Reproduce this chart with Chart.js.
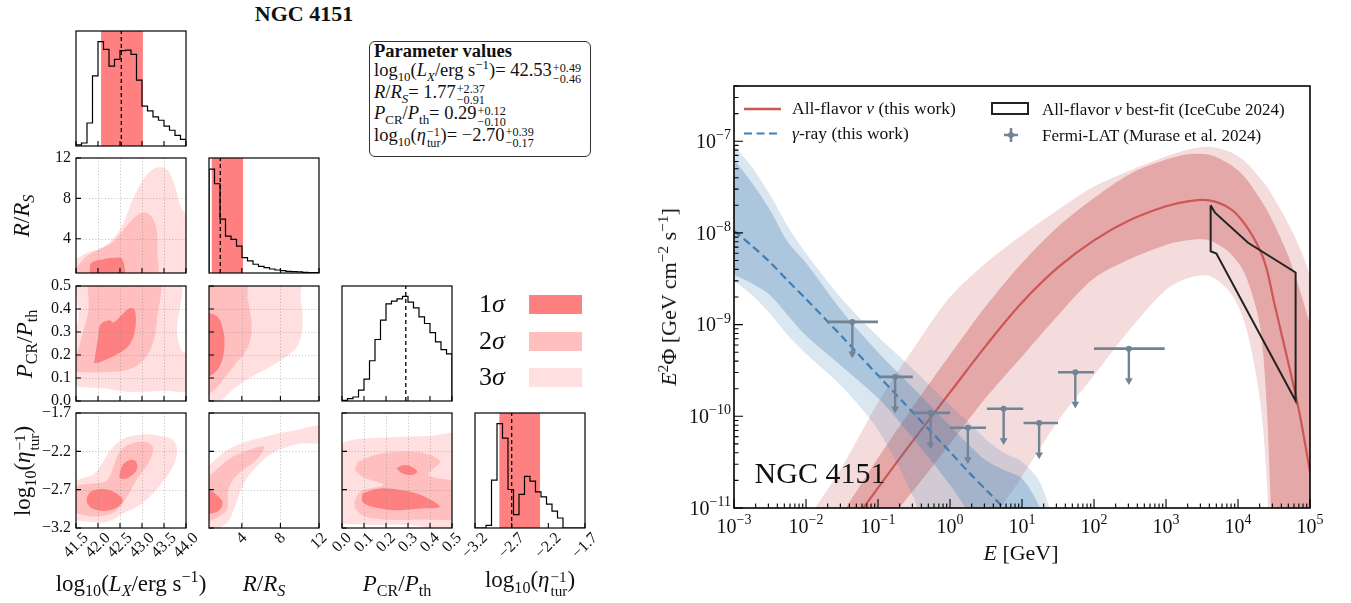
<!DOCTYPE html>
<html>
<head>
<meta charset="utf-8">
<script src="https://cdn.jsdelivr.net/npm/chart.js@4.4.1/dist/chart.umd.min.js"></script>
<style>
body { margin: 0; background: #fff; }
#fig { position: relative; width: 1351px; height: 603px; overflow: hidden; font-family: "Liberation Serif", "DejaVu Serif", serif; color: #111; }
#fig canvas { position: absolute; }
.t { position: absolute; white-space: nowrap; line-height: 1; }
sub, sup { font-size: 0.7em; line-height: 0; }
.ss { display: inline-flex; flex-direction: column; font-size: 0.66em; line-height: 0.92; vertical-align: 0.36em; margin-left: 1px; text-align: left; }
.box { position: absolute; left: 369px; top: 41px; width: 222px; height: 116px; box-sizing: border-box; border: 1.3px solid #333; border-radius: 6px; padding-left: 4px; font-size: 18.5px; }
.pl { height: 21.5px; line-height: 21.5px; white-space: nowrap; }
.pl.first { height: 18px; line-height: 18px; font-size: 18.5px; }
</style>
</head>
<body>
<div id="fig"></div>
<script>
// ---------- corner plot: ranges and ticks ----------
const lxRange = [41.5, 44.0];
const rrRange = [0.6, 12];
const ppRange = [0.0, 0.5];
const etaRange = [-3.2, -1.7];
const lxTicks = [41.5, 42.0, 42.5, 43.0, 43.5, 44.0];
const rrTicks = [4, 8, 12];
const ppTicks = [0.0, 0.1, 0.2, 0.3, 0.4, 0.5];
const etaTicks = [-3.2, -2.7, -2.2, -1.7];

// median and 68% interval of each parameter
const paramMedian = [42.53, 1.77, 0.29, -2.70];
const paramPlus = [0.49, 2.37, 0.12, 0.39];
const paramMinus = [0.46, 0.91, 0.10, 0.17];
const paramBand = [true, true, false, true];

// 1D marginals (20 equal bins over each range, relative height)
const lxHist = [0.01, 0.026, 0.2, 0.61, 0.907, 0.84, 0.695, 0.753, 0.83, 0.834, 0.797, 0.573, 0.346, 0.305, 0.253, 0.224, 0.172, 0.137, 0.093, 0.058];
const rrHist = [0.904, 0.776, 0.469, 0.321, 0.292, 0.233, 0.134, 0.105, 0.076, 0.058, 0.047, 0.035, 0.026, 0.02, 0.015, 0.012, 0.009, 0.006, 0.004, 0.003];
const ppHist = [0.006, 0.02, 0.035, 0.094, 0.19, 0.35, 0.535, 0.703, 0.844, 0.868, 0.888, 0.909, 0.859, 0.809, 0.732, 0.674, 0.594, 0.515, 0.447, 0.409];
const etaHist = [0, 0, 0.023, 0.417, 0.907, 0.781, 0.335, 0.117, 0.292, 0.449, 0.408, 0.315, 0.271, 0.207, 0.146, 0.087, 0, 0, 0, 0];

// 2D credible regions (3 = 3 sigma, 2 = 2 sigma, 1 = 1 sigma), [x, y] in data units
const lxRr3 = [[41.3,0.3],[41.3,1.9],[41.5,2.0],[41.75,2.6],[42.05,3.0],[42.3,3.8],[42.55,5.3],[42.8,8.0],[43.05,10.0],[43.3,11.0],[43.55,10.9],[43.72,9.6],[43.87,7.3],[44.0,6.5],[44.2,6.0],[44.2,0.3],[41.3,0.3]];
const lxRr2 = [[41.3,0.3],[41.3,1.0],[41.5,1.2],[41.75,2.3],[42.05,3.0],[42.35,3.7],[42.6,5.0],[42.85,6.2],[43.05,6.6],[43.22,6.2],[43.33,4.9],[43.35,2.6],[43.3,0.3],[41.3,0.3]];
const lxRr1 = [[41.82,0.3],[41.82,1.4],[41.9,1.75],[42.1,1.95],[42.35,2.1],[42.55,2.0],[42.57,0.3],[41.82,0.3]];

const lxPp3 = [[41.4,0.07],[41.4,0.25],[41.55,0.36],[41.6,0.55],[43.8,0.55],[43.8,0.3],[43.9,0.22],[44.1,0.2],[44.1,0.05],[43.5,0.045],[42.7,0.04],[42.1,0.055],[41.6,0.06],[41.4,0.07]];
const lxPp2 = [[41.4,0.14],[41.5,0.194],[41.66,0.30],[41.78,0.39],[41.87,0.55],[43.34,0.55],[43.34,0.35],[43.21,0.23],[42.99,0.17],[42.65,0.135],[42.13,0.125],[41.7,0.125],[41.4,0.13],[41.4,0.14]];
const lxPp1 = [[41.91,0.165],[42.0,0.275],[42.06,0.334],[42.26,0.351],[42.35,0.341],[42.56,0.378],[42.73,0.404],[42.84,0.396],[42.84,0.304],[42.69,0.238],[42.39,0.199],[42.04,0.169],[41.91,0.165]];

const rrPp3 = [[0.3,0.55],[9.9,0.55],[10.1,0.45],[10.3,0.34],[9.8,0.24],[8.5,0.19],[7.0,0.15],[4.8,0.1],[2.8,0.04],[1.5,-0.01],[0.3,-0.01],[0.3,0.55]];
const rrPp2 = [[0.3,0.55],[4.4,0.55],[4.6,0.45],[5.0,0.35],[4.9,0.27],[4.3,0.21],[3.3,0.16],[2.4,0.11],[1.3,0.055],[0.3,0.03],[0.3,0.55]];
const rrPp1 = [[0.3,0.38],[1.0,0.378],[1.6,0.36],[2.0,0.32],[2.2,0.27],[2.1,0.2],[1.7,0.15],[1.1,0.12],[0.3,0.11],[0.3,0.38]];

const lxEta3 = [[41.3,-2.62],[41.6,-2.56],[41.9,-2.5],[42.1,-2.35],[42.3,-2.17],[42.6,-2.03],[43.0,-1.98],[43.4,-2.0],[43.7,-2.05],[43.8,-2.2],[43.7,-2.4],[43.4,-2.65],[43.0,-2.88],[42.6,-3.0],[42.2,-3.12],[41.8,-3.12],[41.3,-3.05],[41.3,-2.62]];
const lxEta2 = [[41.3,-2.72],[41.6,-2.64],[41.9,-2.62],[42.2,-2.58],[42.35,-2.4],[42.5,-2.2],[42.75,-2.1],[43.1,-2.08],[43.25,-2.15],[43.15,-2.35],[42.9,-2.55],[42.65,-2.8],[42.4,-2.98],[42.0,-3.05],[41.6,-3.02],[41.3,-2.95],[41.3,-2.72]];
const lxEta1a = [[41.74,-2.815],[41.83,-2.728],[42.04,-2.693],[42.3,-2.714],[42.52,-2.793],[42.56,-2.859],[42.39,-2.946],[42.13,-2.977],[41.87,-2.946],[41.76,-2.88],[41.74,-2.815]];
const lxEta1b = [[42.49,-2.509],[42.56,-2.378],[42.73,-2.312],[42.86,-2.334],[42.89,-2.421],[42.78,-2.509],[42.6,-2.561],[42.49,-2.54],[42.49,-2.509]];

const rrEta3 = [[0.3,-2.42],[2.8,-2.16],[6.7,-2.0],[9.9,-1.92],[12.3,-1.87],[12.3,-2.08],[10.0,-2.1],[7.5,-2.2],[5.5,-2.4],[4.2,-2.62],[3.2,-2.95],[2.4,-3.14],[0.3,-3.22],[0.3,-2.42]];
const rrEta2 = [[0.3,-2.55],[1.2,-2.46],[2.8,-2.29],[4.8,-2.18],[6.3,-2.14],[5.6,-2.3],[3.6,-2.5],[2.6,-2.7],[2.5,-2.95],[1.6,-3.05],[0.3,-3.1],[0.3,-2.55]];
const rrEta1 = [[0.3,-2.7],[0.9,-2.72],[1.5,-2.78],[2.0,-2.86],[1.8,-2.95],[1.2,-3.0],[0.3,-3.0],[0.3,-2.7]];

const ppEta3 = [[-0.02,-2.12],[0.05,-2.05],[0.2,-2.02],[0.4,-2.0],[0.55,-2.0],[0.55,-3.17],[0.3,-3.16],[0.05,-3.15],[-0.02,-3.1],[-0.02,-2.12]];
const ppEta2 = [[0.058,-2.443],[0.076,-2.334],[0.187,-2.225],[0.359,-2.216],[0.445,-2.334],[0.393,-2.509],[0.55,-2.64],[0.55,-3.034],[0.359,-3.09],[0.119,-3.064],[0.058,-2.924],[0.084,-2.728],[0.187,-2.64],[0.093,-2.531],[0.058,-2.443]];
const ppEta1a = [[0.247,-2.421],[0.282,-2.378],[0.316,-2.4],[0.342,-2.465],[0.316,-2.509],[0.273,-2.487],[0.247,-2.421]];
const ppEta1b = [[0.093,-2.749],[0.17,-2.684],[0.273,-2.706],[0.359,-2.771],[0.445,-2.924],[0.359,-2.946],[0.239,-2.968],[0.136,-2.924],[0.093,-2.859],[0.093,-2.749]];

// ---------- SED: neutrino model (E in GeV, E^2 Phi in GeV cm^-2 s^-1) ----------
const nuE = [0.01, 0.0316, 0.1, 0.316, 1, 3.16, 10, 31.6, 100, 316, 1000, 2000, 3980, 7940, 12600, 20000, 25100, 31600, 50100, 70800, 100000];
const nuFlux = [1.41e-12, 4.8e-12, 1.66e-11, 5.6e-11, 1.82e-10, 5.9e-10, 1.74e-9, 4.2e-9, 8.3e-9, 1.38e-8, 1.95e-8, 2.21e-8, 2.26e-8, 1.82e-8, 1.23e-8, 6.6e-9, 4.0e-9, 1.78e-9, 3.8e-10, 1.12e-10, 2.5e-11];
const nu1Up = [2.5e-12, 8.7e-12, 3.5e-11, 1.32e-10, 4.7e-10, 1.6e-9, 4.7e-9, 1.17e-8, 2.4e-8, 4.4e-8, 6.3e-8, 7.2e-8, 7.1e-8, 5.5e-8, 4.0e-8, 2.4e-8, 1.78e-8, 1.26e-8, 5.6e-9, 2.5e-9, 1.0e-9];
const nu1Lo = [2.5e-13, 1.0e-12, 5.0e-12, 1.58e-11, 5.0e-11, 1.6e-10, 4.5e-10, 1.26e-9, 3.2e-9, 5.2e-9, 7.4e-9, 8.3e-9, 8.3e-9, 5.9e-9, 3.5e-9, 1.0e-9, 1.26e-10, 2.5e-12, 1e-13, 1e-13, 1e-13];
const nu2Up = [7.1e-12, 2.8e-11, 1.41e-10, 5.6e-10, 2.0e-9, 4.7e-9, 9.5e-9, 1.78e-8, 3.2e-8, 4.8e-8, 6.8e-8, 8.1e-8, 8.7e-8, 7.6e-8, 6.0e-8, 4.0e-8, 3.2e-8, 2.4e-8, 1.26e-8, 7.1e-9, 3.5e-9];
const nu2Lo = [1e-13, 1e-13, 1e-13, 1e-13, 1e-13, 5.0e-12, 2.2e-11, 8.9e-11, 2.8e-10, 8.9e-10, 2.4e-9, 3.2e-9, 3.4e-9, 2.2e-9, 1.0e-9, 1.6e-10, 2.0e-11, 3.2e-13, 1e-13, 1e-13, 1e-13];

// gamma-ray model
const gE = [0.001, 0.00178, 0.00316, 0.00562, 0.01, 0.0316, 0.1, 0.316, 1, 1.78, 3.16, 5.62, 10, 17.8, 31.6];
const gFlux = [1.05e-8, 7.2e-9, 4.8e-9, 3.0e-9, 1.9e-9, 7.4e-10, 2.8e-10, 1.07e-10, 4.1e-11, 2.5e-11, 1.58e-11, 1.0e-11, 6.3e-12, 4.0e-12, 2.5e-12];
const g1Up = [6.3e-8, 3.5e-8, 1.78e-8, 7.9e-9, 4.7e-9, 1.4e-9, 5.0e-10, 2.0e-10, 7.9e-11, 5.0e-11, 3.3e-11, 2.6e-11, 2.1e-11, 1.0e-11, 2.5e-12];
const g1Lo = [3.5e-9, 2.8e-9, 2.1e-9, 1.26e-9, 7.6e-10, 3.5e-10, 1.58e-10, 5.6e-11, 1.78e-11, 8.9e-12, 3.2e-12, 1e-12, 1e-12, 1e-12, 1e-12];
const g2Up = [8.9e-8, 5.2e-8, 2.6e-8, 1.17e-8, 6.0e-9, 1.9e-9, 7.4e-10, 3.2e-10, 1.32e-10, 8.7e-11, 5.6e-11, 4.0e-11, 3.2e-11, 1.9e-11, 5.0e-12];
const g2Lo = [3.0e-9, 2.1e-9, 1.32e-9, 7.6e-10, 4.8e-10, 2.1e-10, 7.1e-11, 1.26e-11, 1e-12, 1e-12, 1e-12, 1e-12, 1e-12, 1e-12, 1e-12];

// IceCube 2024 best-fit bow-tie (outline)
const icE = [4170, 4790, 13800, 63100, 63100, 5010, 4170, 4170];
const icFlux = [2.0e-8, 1.66e-8, 7.8e-9, 3.7e-9, 1.48e-10, 5.96e-9, 6.3e-9, 2.0e-8];

// Fermi-LAT upper limits
const fermiE = [0.044, 0.173, 0.537, 1.77, 5.56, 17.3, 55.0, 305];
const fermiLo = [0.0202, 0.103, 0.309, 1.0, 3.25, 10.5, 31.6, 100];
const fermiHi = [0.1, 0.305, 1.0, 3.16, 10.4, 31.6, 100, 960];
const fermiUL = [1.07e-9, 2.69e-10, 1.09e-10, 7.5e-11, 1.21e-10, 8.45e-11, 3.02e-10, 5.47e-10];

const sedXRange = [1e-3, 1e5];
const sedYRange = [1e-11, 4e-7];
const sedXDecades = [-3, -2, -1, 0, 1, 2, 3, 4, 5];
const sedYDecades = [-11, -10, -9, -8, -7];

// ---------- styling ----------
const SERIF = '"Liberation Serif", "DejaVu Serif", serif';
const sig1 = '#ff8080', sig2 = '#ffbfbf', sig3 = '#ffdfdf';
const nuColor = '#cd5656', gColor = '#3f7fb5', fermiColor = '#718496';

const fig = document.getElementById('fig');

function fmtNum(v, d) {
    return (v < 0 ? '\u2212' : '') + Math.abs(v).toFixed(d);
}

function drawPow(ctx, x, y, exp, align, size) {
    const base = '10';
    const ex = (exp < 0 ? '\u2212' : '') + Math.abs(exp);
    const es = Math.round(size * 0.7);
    ctx.font = size + 'px ' + SERIF;
    const wb = ctx.measureText(base).width;
    ctx.font = es + 'px ' + SERIF;
    const we = ctx.measureText(ex).width;
    const x0 = align === 'right' ? x - wb - we : x - (wb + we) / 2;
    ctx.textAlign = 'left';
    ctx.textBaseline = 'middle';
    ctx.font = size + 'px ' + SERIF;
    ctx.fillText(base, x0, y);
    ctx.font = es + 'px ' + SERIF;
    ctx.fillText(ex, x0 + wb, y - size * 0.36);
}

// frame, inward ticks, grid and tick labels drawn from the chart's own scales
const decoCfg = new WeakMap();
const decoPlugin = {
    id: 'deco',
    afterDatasetsDraw(chart) {
        const o = decoCfg.get(chart.canvas);
        if (!o) return;
        const ctx = chart.ctx, a = chart.chartArea;
        const sx = chart.scales.x, sy = chart.scales.y;
        ctx.save();
        if (o.grid) {
            ctx.strokeStyle = 'rgba(140,140,140,0.6)';
            ctx.lineWidth = 0.8;
            ctx.setLineDash([1.2, 2]);
            ctx.beginPath();
            o.xMajor.forEach(v => {
                const p = Math.round(sx.getPixelForValue(v)) + 0.5;
                if (p > a.left + 2 && p < a.right - 2) { ctx.moveTo(p, a.top); ctx.lineTo(p, a.bottom); }
            });
            o.yMajor.forEach(v => {
                const p = Math.round(sy.getPixelForValue(v)) + 0.5;
                if (p > a.top + 2 && p < a.bottom - 2) { ctx.moveTo(a.left, p); ctx.lineTo(a.right, p); }
            });
            ctx.stroke();
            ctx.setLineDash([]);
        }
        ctx.strokeStyle = '#000';
        ctx.lineWidth = o.tickWidth;
        ctx.beginPath();
        const tx = (list, len) => list.forEach(v => {
            const p = sx.getPixelForValue(v);
            ctx.moveTo(p, a.bottom); ctx.lineTo(p, a.bottom - len);
        });
        const ty = (list, len) => list.forEach(v => {
            const p = sy.getPixelForValue(v);
            ctx.moveTo(a.left, p); ctx.lineTo(a.left + len, p);
        });
        if (o.xTicks) { tx(o.xMajor, o.major); tx(o.xMinor || [], o.minor); }
        if (o.yTicks) { ty(o.yMajor, o.major); ty(o.yMinor || [], o.minor); }
        ctx.stroke();
        ctx.lineWidth = o.frame;
        ctx.strokeRect(a.left, a.top, a.right - a.left, a.bottom - a.top);

        ctx.fillStyle = '#111';
        if (o.xLabels) {
            o.xMajor.forEach(v => {
                const p = sx.getPixelForValue(v);
                if (o.log) {
                    drawPow(ctx, p, a.bottom + 20, Math.round(Math.log10(v)), 'center', o.fontSize);
                } else {
                    const s = fmtNum(v, o.xDec);
                    ctx.font = o.fontSize + 'px ' + SERIF;
                    const w = ctx.measureText(s).width;
                    ctx.save();
                    ctx.translate(p, a.bottom + 4 + (w + 10) / 2.83);
                    ctx.rotate(-Math.PI / 4);
                    ctx.textAlign = 'center';
                    ctx.textBaseline = 'middle';
                    ctx.fillText(s, 0, 0);
                    ctx.restore();
                }
            });
        }
        if (o.yLabels) {
            o.yMajor.forEach(v => {
                const p = sy.getPixelForValue(v);
                if (o.log) {
                    drawPow(ctx, a.left - 3, p + 1.5, Math.round(Math.log10(v)), 'right', o.fontSize);
                } else {
                    ctx.font = o.fontSize + 'px ' + SERIF;
                    ctx.textAlign = 'right';
                    ctx.textBaseline = 'middle';
                    ctx.fillText(fmtNum(v, o.yDec), a.left - 5, p);
                }
            });
        }
        if (o.extra) o.extra(ctx, chart);
        ctx.restore();
    }
};

function makeChart(rect, pad, scales, datasets, deco) {
    const c = document.createElement('canvas');
    const W = rect.w + pad.left + pad.right, H = rect.h + pad.top + pad.bottom;
    c.width = W;
    c.height = H;
    c.style.left = (rect.x - pad.left) + 'px';
    c.style.top = (rect.y - pad.top) + 'px';
    c.style.width = W + 'px';
    c.style.height = H + 'px';
    fig.appendChild(c);
    decoCfg.set(c, deco);
    // first dataset in the list is drawn first (at the bottom)
    datasets.forEach((d, i) => { d.order = datasets.length - i; });
    return new Chart(c, {
        type: 'line',
        data: { datasets },
        options: {
            responsive: false,
            animation: false,
            devicePixelRatio: 1,
            events: [],
            layout: { padding: pad },
            elements: { point: { radius: 0 }, line: { capBezierPoints: false } },
            scales: {
                x: Object.assign({ type: 'linear', display: false, bounds: 'data' }, scales.x),
                y: Object.assign({ type: 'linear', display: false, bounds: 'data' }, scales.y)
            },
            plugins: { legend: { display: false }, tooltip: { enabled: false } }
        },
        plugins: [decoPlugin]
    });
}

function xy(xs, ys) {
    return xs.map((x, i) => ({ x, y: ys[i] }));
}

function region(points, color) {
    return {
        data: points.map(p => ({ x: p[0], y: p[1] })),
        fill: 'shape',
        backgroundColor: color,
        borderColor: 'rgba(0,0,0,0)',
        borderWidth: 0,
        pointRadius: 0,
        tension: 0.35
    };
}

// ---------- corner plot ----------
const colX = [76, 209, 342, 475];
const rowY = [31, 158, 286, 413];
const PW = 110, PH = 115;
const cornerPad = { left: 62, right: 24, top: 8, bottom: 48 };

const axesInfo = [
    { range: lxRange, ticks: lxTicks, dec: 1 },
    { range: rrRange, ticks: rrTicks, dec: 0 },
    { range: ppRange, ticks: ppTicks, dec: 1 },
    { range: etaRange, ticks: etaTicks, dec: 1 }
];
const hists = [lxHist, rrHist, ppHist, etaHist];
const regions2d = {
    '1,0': [[lxRr3], [lxRr2], [lxRr1]],
    '2,0': [[lxPp3], [lxPp2], [lxPp1]],
    '2,1': [[rrPp3], [rrPp2], [rrPp1]],
    '3,0': [[lxEta3], [lxEta2], [lxEta1a, lxEta1b]],
    '3,1': [[rrEta3], [rrEta2], [rrEta1]],
    '3,2': [[ppEta3], [ppEta2], [ppEta1a, ppEta1b]]
};

for (let r = 0; r < 4; r++) {
    for (let c = 0; c <= r; c++) {
        const ax = axesInfo[c];
        const rect = { x: colX[c], y: rowY[r], w: PW, h: PH };
        const datasets = [];
        let yScale;
        if (r === c) {
            const counts = hists[c];
            const [lo, hi] = ax.range;
            const w = (hi - lo) / counts.length;
            const pts = [{ x: lo, y: 0 }];
            counts.forEach((v, k) => pts.push({ x: lo + k * w, y: v }));
            pts.push({ x: hi, y: counts[counts.length - 1] }, { x: hi, y: 0 });
            const m = paramMedian[c];
            if (paramBand[c]) {
                datasets.push({
                    data: [{ x: m - paramMinus[c], y: 2 }, { x: m + paramPlus[c], y: 2 }],
                    fill: 'origin', backgroundColor: sig1, borderColor: 'rgba(0,0,0,0)', borderWidth: 0
                });
            }
            datasets.push({ data: pts, stepped: true, borderColor: '#000', borderWidth: 1.2, fill: false });
            datasets.push({ data: [{ x: m, y: 0 }, { x: m, y: 2 }], borderColor: '#000', borderWidth: 1.3, borderDash: [4, 3], fill: false });
            yScale = { min: 0, max: 1 };
        } else {
            const set = regions2d[r + ',' + c];
            const cols = [sig3, sig2, sig1];
            set.forEach((polys, k) => polys.forEach(p => datasets.push(region(p, cols[k]))));
            yScale = { min: axesInfo[r].range[0], max: axesInfo[r].range[1] };
        }
        makeChart(rect, cornerPad,
            { x: { min: ax.range[0], max: ax.range[1] }, y: yScale },
            datasets,
            {
                grid: r !== c,
                xMajor: ax.ticks, yMajor: r !== c ? axesInfo[r].ticks : [],
                xTicks: true, yTicks: r !== c,
                major: 5, minor: 0, tickWidth: 1.1, frame: 1.2,
                xLabels: r === 3, yLabels: c === 0 && r > 0,
                xDec: ax.dec, yDec: axesInfo[r].dec, fontSize: 16
            });
    }
}

// ---------- SED ----------
const sedRect = { x: 734, y: 86, w: 576, h: 422 };
const sedPad = { left: 94, right: 41, top: 26, bottom: 82 };

const sedDatasets = [
    { data: xy(nuE, nu2Up), fill: '+1', backgroundColor: 'rgba(205,92,92,0.21)', borderColor: 'rgba(0,0,0,0)', borderWidth: 0, tension: 0.3 },
    { data: xy(nuE, nu2Lo), fill: false, borderColor: 'rgba(0,0,0,0)', borderWidth: 0, tension: 0.3 },
    { data: xy(nuE, nu1Up), fill: '+1', backgroundColor: 'rgba(205,92,92,0.41)', borderColor: 'rgba(0,0,0,0)', borderWidth: 0, tension: 0.3 },
    { data: xy(nuE, nu1Lo), fill: false, borderColor: 'rgba(0,0,0,0)', borderWidth: 0, tension: 0.3 },
    { data: xy(nuE, nuFlux), fill: false, borderColor: nuColor, borderWidth: 2.2, tension: 0.35 },
    { data: xy(gE, g2Up), fill: '+1', backgroundColor: 'rgba(70,130,180,0.2)', borderColor: 'rgba(0,0,0,0)', borderWidth: 0, tension: 0.3 },
    { data: xy(gE, g2Lo), fill: false, borderColor: 'rgba(0,0,0,0)', borderWidth: 0, tension: 0.3 },
    { data: xy(gE, g1Up), fill: '+1', backgroundColor: 'rgba(70,130,180,0.32)', borderColor: 'rgba(0,0,0,0)', borderWidth: 0, tension: 0.3 },
    { data: xy(gE, g1Lo), fill: false, borderColor: 'rgba(0,0,0,0)', borderWidth: 0, tension: 0.3 },
    { data: xy(gE, gFlux), fill: false, borderColor: gColor, borderWidth: 2.2, borderDash: [8, 4.5], tension: 0.3 },
    { data: xy(icE, icFlux), fill: false, borderColor: '#222', borderWidth: 2, tension: 0 }
];
fermiE.forEach((e, i) => {
    sedDatasets.push({
        data: [{ x: fermiLo[i], y: fermiUL[i] }, { x: fermiHi[i], y: fermiUL[i] }],
        fill: false, borderColor: fermiColor, borderWidth: 2.6, pointRadius: 0
    });
    sedDatasets.push({
        data: [{ x: e, y: fermiUL[i] }, { x: e, y: fermiUL[i] * 0.45 }],
        fill: false, borderColor: fermiColor, borderWidth: 2.4,
        pointRadius: [3, 4.5], pointStyle: ['circle', 'triangle'], pointRotation: [0, 180],
        pointBackgroundColor: fermiColor, pointBorderColor: fermiColor, pointBorderWidth: 0
    });
});

const xMinor = [], yMinor = [];
sedXDecades.slice(0, -1).forEach(d => { for (let k = 2; k < 10; k++) xMinor.push(k * Math.pow(10, d)); });
sedYDecades.forEach(d => { for (let k = 2; k < 10; k++) { const v = k * Math.pow(10, d); if (v <= sedYRange[1]) yMinor.push(v); } });

makeChart(sedRect, sedPad,
    {
        x: { type: 'logarithmic', min: sedXRange[0], max: sedXRange[1] },
        y: { type: 'logarithmic', min: sedYRange[0], max: sedYRange[1] }
    },
    sedDatasets,
    {
        grid: false,
        xMajor: sedXDecades.map(d => Math.pow(10, d)), xMinor,
        yMajor: sedYDecades.map(d => Math.pow(10, d)), yMinor,
        xTicks: true, yTicks: true, major: 9, minor: 4.5, tickWidth: 1.1, frame: 1.6,
        xLabels: true, yLabels: true, log: true, fontSize: 20,
        extra(ctx) {
            // legend symbols (page coordinates shifted to this canvas)
            ctx.save();
            ctx.translate(-(sedRect.x - sedPad.left), -(sedRect.y - sedPad.top));
            ctx.lineCap = 'butt';
            ctx.strokeStyle = nuColor; ctx.lineWidth = 2.5;
            ctx.beginPath(); ctx.moveTo(744, 109); ctx.lineTo(781, 109); ctx.stroke();
            ctx.strokeStyle = gColor; ctx.lineWidth = 2.2; ctx.setLineDash([8, 4.5]);
            ctx.beginPath(); ctx.moveTo(744, 133.5); ctx.lineTo(781, 133.5); ctx.stroke();
            ctx.setLineDash([]);
            ctx.strokeStyle = '#222'; ctx.lineWidth = 2;
            ctx.strokeRect(992, 103, 36, 11);
            ctx.strokeStyle = fermiColor; ctx.lineWidth = 2.5;
            ctx.beginPath(); ctx.moveTo(1004, 135); ctx.lineTo(1018, 135); ctx.moveTo(1011, 128); ctx.lineTo(1011, 142); ctx.stroke();
            ctx.fillStyle = fermiColor;
            ctx.beginPath(); ctx.arc(1011, 135, 3, 0, 2 * Math.PI); ctx.fill();
            ctx.restore();
        }
    });

// ---------- text ----------
function addText(html, x, y, size, opts) {
    opts = opts || {};
    const d = document.createElement('div');
    d.className = 't';
    d.innerHTML = html;
    d.style.left = x + 'px';
    d.style.top = y + 'px';
    d.style.fontSize = size + 'px';
    if (opts.bold) d.style.fontWeight = 'bold';
    let tr = opts.anchor === 'left' ? 'translate(0,-50%)' : 'translate(-50%,-50%)';
    if (opts.rot) tr += ' rotate(' + opts.rot + 'deg)';
    d.style.transform = tr;
    fig.appendChild(d);
    return d;
}
function stack(up, down) {
    return '<span class="ss"><span>' + up + '</span><span>' + down + '</span></span>';
}

const lxTitle = 'log<sub>10</sub>(<i>L</i><sub><i>X</i></sub>/erg s<sup>\u22121</sup>)';
const rrTitle = '<i>R</i>/<i>R</i><sub><i>S</i></sub>';
const ppTitle = '<i>P</i><sub>CR</sub>/<i>P</i><sub>th</sub>';
const etaTitle = 'log<sub>10</sub>(<i>\u03b7</i>' + stack('\u22121', 'tur') + ')';
const titles = [lxTitle, rrTitle, ppTitle, etaTitle];

addText('NGC 4151', 304, 14, 22, { bold: true });

titles.forEach((t, i) => addText(t, colX[i] + PW / 2, 583, 23));
addText(rrTitle, 21, rowY[1] + PH / 2, 23, { rot: -90 });
addText(ppTitle, 24, rowY[2] + PH / 2, 23, { rot: -90 });
addText(etaTitle, 26, rowY[3] + PH / 2, 23, { rot: -90 });

// parameter box
const box = document.createElement('div');
box.className = 'box';
let boxHtml = '<div class="pl first"><b>Parameter values</b></div>';
titles.forEach((t, i) => {
    boxHtml += '<div class="pl">' + t + '= ' + fmtNum(paramMedian[i], 2) +
        stack('+' + paramPlus[i].toFixed(2), '\u2212' + paramMinus[i].toFixed(2)) + '</div>';
});
box.innerHTML = boxHtml;
fig.appendChild(box);

// sigma legend
const sigLabels = ['1<i>\u03c3</i>', '2<i>\u03c3</i>', '3<i>\u03c3</i>'];
const sigColors = [sig1, sig2, sig3];
const sigY = [304, 341, 377];
sigLabels.forEach((s, i) => {
    addText(s, 479, sigY[i], 26, { anchor: 'left' });
    const p = document.createElement('div');
    p.style.cssText = 'position:absolute;left:529px;width:53px;height:19px;top:' + (sigY[i] - 9.5) + 'px;background:' + sigColors[i];
    fig.appendChild(p);
});

// SED labels and legend text
addText('<i>E</i> [GeV]', 1021, 553, 22);
addText('<i>E</i><sup>2</sup>\u03a6 [GeV cm<sup>\u22122</sup> s<sup>\u22121</sup>]', 669, 297, 22, { rot: -90 });
addText('NGC 4151', 820, 473, 30);
addText('All-flavor <i>\u03bd</i> (this work)', 792, 109, 17.5, { anchor: 'left' });
addText('<i>\u03b3</i>-ray (this work)', 792, 133.5, 17.5, { anchor: 'left' });
addText('All-flavor <i>\u03bd</i> best-fit (IceCube 2024)', 1042, 108.5, 17, { anchor: 'left' });
addText('Fermi-LAT (Murase et al. 2024)', 1042, 135, 17, { anchor: 'left' });
</script>
</body>
</html>
